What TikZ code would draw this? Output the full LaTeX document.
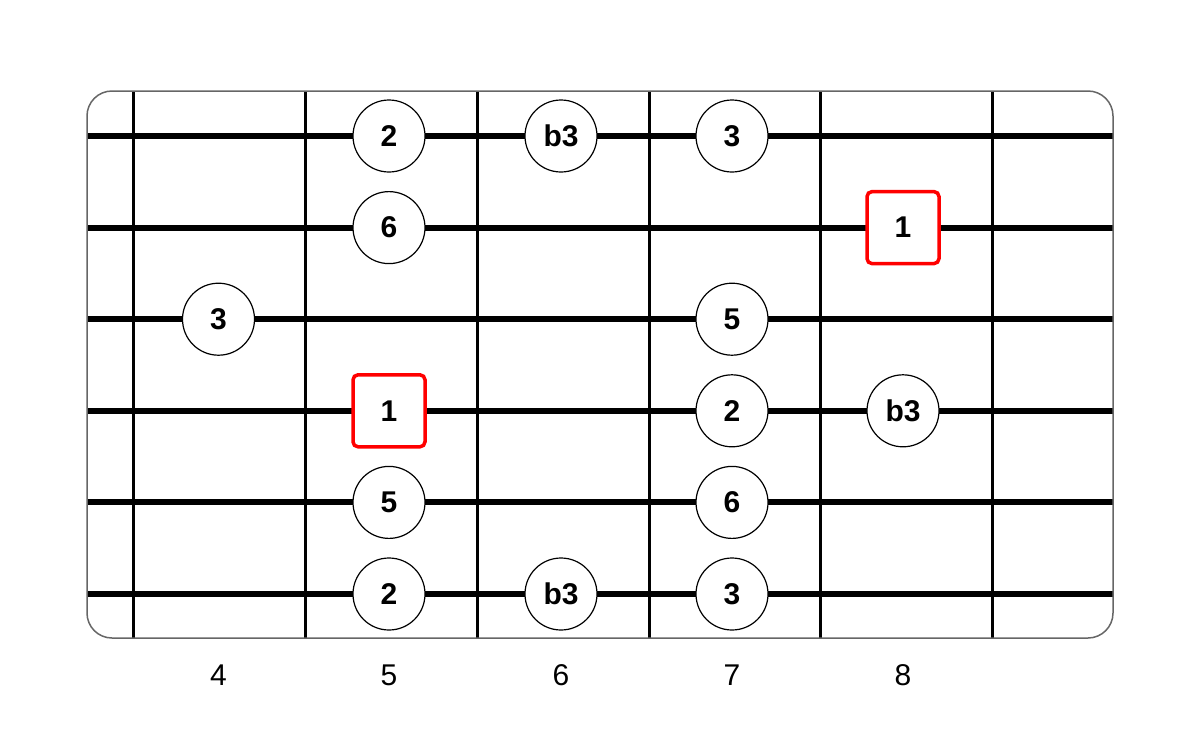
\documentclass[tikz,border=0pt]{standalone}
\usepackage{fontspec}
\setmainfont{Liberation Sans}
\begin{document}
\begin{tikzpicture}[x=1pt,y=-1pt,
  stringline/.style={line width=6pt,black},
  fretline/.style={line width=3pt,black},
  note/.style={circle,draw=black,line width=1.2pt,fill=white,minimum size=72pt,inner sep=0pt,font=\fontsize{30}{30}\selectfont\bfseries},
  root/.style={rectangle,rounded corners=5pt,draw=red,line width=3.5pt,fill=white,minimum size=72pt,inner sep=0pt,font=\fontsize{30}{30}\selectfont\bfseries},
  fretnum/.style={font=\fontsize{30}{30}\selectfont}]
\useasboundingbox (0,0) rectangle (1200,729);
\fill[white] (0,0) rectangle (1200,729);
% strings
\foreach \s/\y in {1/136,2/227.6,3/319.2,4/410.8,5/502.4,6/594}{
  \coordinate (sl\s) at (87,\y);
  \coordinate (sr\s) at (1113,\y);
  \draw[stringline] (sl\s) -- (sr\s);
}
% frets
\foreach \f/\x in {1/133,2/305,3/477,4/649,5/820,6/992}{
  \coordinate (ft\f) at (\x,91);
  \coordinate (fb\f) at (\x,638);
  \draw[fretline] (ft\f) -- (fb\f);
}
% frame
\draw[draw=black!60,line width=1.5pt,rounded corners=25pt] (87,91) rectangle (1113,638);
% notes
\def\fa{218.5}\def\fb{389}\def\fc{561}\def\fd{732}\def\fe{903}
\node[note] (n12) at (\fb,136) {2};
\node[note] (n13) at (\fc,136) {b3};
\node[note] (n14) at (\fd,136) {3};
\node[note] (n22) at (\fb,227.6) {6};
\node[root] (n25) at (\fe,227.6) {1};
\node[note] (n31) at (\fa,319.2) {3};
\node[note] (n34) at (\fd,319.2) {5};
\node[root] (n42) at (\fb,410.8) {1};
\node[note] (n44) at (\fd,410.8) {2};
\node[note] (n45) at (\fe,410.8) {b3};
\node[note] (n52) at (\fb,502.4) {5};
\node[note] (n54) at (\fd,502.4) {6};
\node[note] (n62) at (\fb,594) {2};
\node[note] (n63) at (\fc,594) {b3};
\node[note] (n64) at (\fd,594) {3};
% fret numbers
\node[fretnum] (l4) at (\fa,675) {4};
\node[fretnum] (l5) at (\fb,675) {5};
\node[fretnum] (l6) at (\fc,675) {6};
\node[fretnum] (l7) at (\fd,675) {7};
\node[fretnum] (l8) at (\fe,675) {8};
\end{tikzpicture}
\end{document}
